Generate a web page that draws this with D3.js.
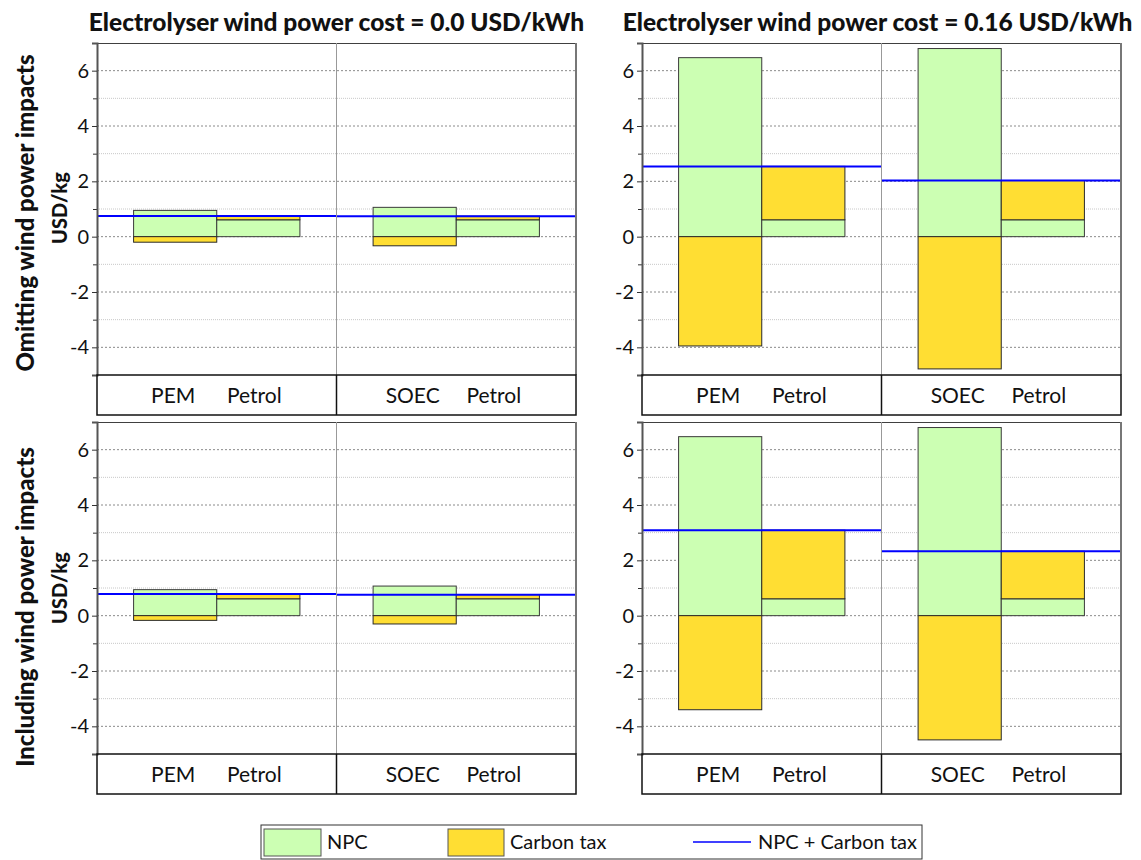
<html>
<head>
<meta charset="utf-8">
<title>Electrolyser hydrogen cost vs petrol</title>
<script src="https://d3js.org/d3.v7.min.js"></script>
<style>
body { margin: 0; background: #fff; }
svg { font-family: Lato, "Open Sans", sans-serif; }
.tick text { font-size: 20px; fill: #111; }
</style>
</head>
<body>
<svg width="1141" height="860"></svg>

<script>

var svg = d3.select("svg");

// ---- data ----
var columnTitles = ["Electrolyser wind power cost = 0.0 USD/kWh", "Electrolyser wind power cost = 0.16 USD/kWh"];
var rowTitles = ["Omitting wind power impacts", "Including wind power impacts"];
var groups = ["PEM vs Petrol", "SOEC vs Petrol"];
var barLabels = [["PEM", "Petrol"], ["SOEC", "Petrol"]];

// bar order: PEM, Petrol, SOEC, Petrol
var npcOmit000 = [0.95, 0.61, 1.06, 0.61];
var taxOmit000 = [-0.20, 0.14, -0.33, 0.13];
var totalOmit000 = [0.75, 0.74];

var npcOmit016 = [6.47, 0.61, 6.80, 0.61];
var taxOmit016 = [-3.95, 1.93, -4.78, 1.42];
var totalOmit016 = [2.54, 2.03];

var npcIncl000 = [0.94, 0.61, 1.07, 0.61];
var taxIncl000 = [-0.17, 0.17, -0.30, 0.15];
var totalIncl000 = [0.78, 0.76];

var npcIncl016 = [6.47, 0.61, 6.80, 0.61];
var taxIncl016 = [-3.40, 2.48, -4.49, 1.72];
var totalIncl016 = [3.09, 2.33];

var majorTicks = [-4, -2, 0, 2, 4, 6];
var minorTicks = [-3, -1, 1, 3, 5];
var legendLabels = ["NPC", "Carbon tax", "NPC + Carbon tax"];

var panels = [
	{row: 0, col: 0, npc: npcOmit000, tax: taxOmit000, total: totalOmit000},
	{row: 0, col: 1, npc: npcOmit016, tax: taxOmit016, total: totalOmit016},
	{row: 1, col: 0, npc: npcIncl000, tax: taxIncl000, total: totalIncl000},
	{row: 1, col: 1, npc: npcIncl016, tax: taxIncl016, total: totalIncl016}
];

// ---- layout ----
var panelX = [97, 642], panelTop = [43, 422];
var panelW = 479, plotH = 332, stripH = 40;
var npcColor = "#ccffb3", taxColor = "#ffde33", lineColor = "#0000ff";

var y = d3.scaleLinear().domain([-5, 7]).range([plotH, 0]);
var groupX = d3.scaleBand().domain(d3.range(groups.length)).range([0, panelW]);
var barX = d3.scaleBand().domain([0, 1]).range([0, groupX.bandwidth()]).paddingInner(0).paddingOuter(0.44);

// column titles
svg.selectAll("text.coltitle").data(columnTitles).enter().append("text")
	.attr("class", "coltitle")
	.attr("x", function (d, i) { return panelX[i] + panelW / 2 - (i ? 4 : 0); })
	.attr("y", 31)
	.attr("text-anchor", "middle")
	.style("font-size", "24.5px").style("font-weight", "900").style("fill", "#111")
	.text(function (d) { return d; });

// row titles + axis titles
rowTitles.forEach(function (t, i) {
	var cy = [213, 607][i];
	svg.append("text")
		.attr("transform", "translate(24," + cy + ") rotate(-90)")
		.attr("text-anchor", "middle").attr("dominant-baseline", "central")
		.style("font-size", "24px").style("font-weight", "900").style("fill", "#111")
		.text(t);
	svg.append("text")
		.attr("transform", "translate(59," + [208, 588][i] + ") rotate(-90)")
		.attr("text-anchor", "middle").attr("dominant-baseline", "central")
		.style("font-size", "20px").style("font-weight", "900").style("fill", "#111")
		.text("USD/kg");
});

panels.forEach(function (p) {
	var g = svg.append("g").attr("transform", "translate(" + panelX[p.col] + "," + panelTop[p.row] + ")");

	// grid
	g.selectAll("line.minor").data(minorTicks).enter().append("line")
		.attr("x1", 0).attr("x2", panelW)
		.attr("y1", function (d) { return y(d); }).attr("y2", function (d) { return y(d); })
		.style("stroke", "#c8c8c8").style("stroke-dasharray", "1,1");
	g.selectAll("line.major").data(majorTicks).enter().append("line")
		.attr("x1", 0).attr("x2", panelW)
		.attr("y1", function (d) { return y(d); }).attr("y2", function (d) { return y(d); })
		.style("stroke", "#8a8a8a").style("stroke-dasharray", "2,2");

	// bars
	var bars = p.npc.map(function (v, i) {
		var grp = Math.floor(i / 2), k = i % 2;
		var t = p.tax[i];
		return {
			x: groupX(grp) + barX(k),
			npc: [0, v],
			tax: t >= 0 ? [v, v + t] : [t, 0]
		};
	});
	g.selectAll("rect.npc").data(bars).enter().append("rect")
		.attr("x", function (d) { return d.x; })
		.attr("width", barX.bandwidth())
		.attr("y", function (d) { return y(d.npc[1]); })
		.attr("height", function (d) { return y(d.npc[0]) - y(d.npc[1]); })
		.style("fill", npcColor).style("stroke", "#3a3a3a").style("stroke-width", 1);
	g.selectAll("rect.tax").data(bars).enter().append("rect")
		.attr("x", function (d) { return d.x; })
		.attr("width", barX.bandwidth())
		.attr("y", function (d) { return y(d.tax[1]); })
		.attr("height", function (d) { return y(d.tax[0]) - y(d.tax[1]); })
		.style("fill", taxColor).style("stroke", "#2a2a2a").style("stroke-width", 1);

	// NPC + carbon tax lines
	g.selectAll("line.total").data(p.total).enter().append("line")
		.attr("x1", function (d, i) { return groupX(i); })
		.attr("x2", function (d, i) { return groupX(i) + groupX.bandwidth(); })
		.attr("y1", function (d) { return y(d); }).attr("y2", function (d) { return y(d); })
		.style("stroke", lineColor).style("stroke-width", 2);

	// frame
	g.append("line").attr("x1", 0).attr("x2", panelW).attr("y1", 0.5).attr("y2", 0.5).style("stroke", "#404040");
	g.append("line").attr("x1", panelW / 2).attr("x2", panelW / 2).attr("y1", 0).attr("y2", plotH)
		.style("stroke", "#999");
	g.append("line").attr("x1", panelW).attr("x2", panelW).attr("y1", 0).attr("y2", plotH)
		.style("stroke", "#777").style("stroke-width", 2);

	// axes
	var minorAxis = d3.axisLeft(y).tickValues(minorTicks).tickSize(4).tickFormat("");
	g.append("g").call(minorAxis).call(function (a) {
		a.select(".domain").remove();
		a.selectAll("line").style("stroke", "#333");
	});
	var axis = d3.axisLeft(y).tickValues(majorTicks).tickSize(5).tickPadding(3)
		.tickFormat(function (d) { return String(d); });
	g.append("g").call(axis).call(function (a) {
		a.select(".domain").style("stroke", "#555").style("stroke-width", 2);
		a.selectAll("line").style("stroke", "#333");
		a.selectAll("text").style("font-family", "Lato, sans-serif");
	});

	// category strip
	var strip = g.append("g").attr("transform", "translate(0," + plotH + ")");
	strip.append("rect").attr("width", panelW).attr("height", stripH)
		.style("fill", "none").style("stroke", "#111").style("stroke-width", 1.5);
	strip.append("line").attr("x1", panelW / 2).attr("x2", panelW / 2).attr("y1", 0).attr("y2", stripH)
		.style("stroke", "#111").style("stroke-width", 1.5);
	barLabels.forEach(function (labels, grp) {
		strip.selectAll(null).data(labels).enter().append("text")
			.attr("x", function (d, k) { return groupX(grp) + barX(k) + barX.bandwidth() / 2 - (k ? 4 : 2); })
			.attr("y", 28)
			.attr("text-anchor", "middle")
			.style("font-size", "21px").style("fill", "#111")
			.text(function (d) { return d; });
	});
});

// legend
var legend = svg.append("g").attr("transform", "translate(261,825)");
legend.append("rect").attr("width", 661).attr("height", 34)
	.style("fill", "#fff").style("stroke", "#333");
legend.append("rect").attr("x", 3).attr("y", 4).attr("width", 57).attr("height", 27)
	.style("fill", npcColor).style("stroke", "#555");
legend.append("rect").attr("x", 187).attr("y", 4).attr("width", 56).attr("height", 27)
	.style("fill", taxColor).style("stroke", "#555");
legend.append("line").attr("x1", 432).attr("x2", 490).attr("y1", 17).attr("y2", 17)
	.style("stroke", lineColor).style("stroke-width", 1.5);
legend.selectAll("text").data(legendLabels).enter().append("text")
	.attr("x", function (d, i) { return [66, 249, 497][i]; })
	.attr("y", 24)
	.style("font-size", "20px").style("fill", "#111")
	.text(function (d) { return d; });

</script>
</body>
</html>
